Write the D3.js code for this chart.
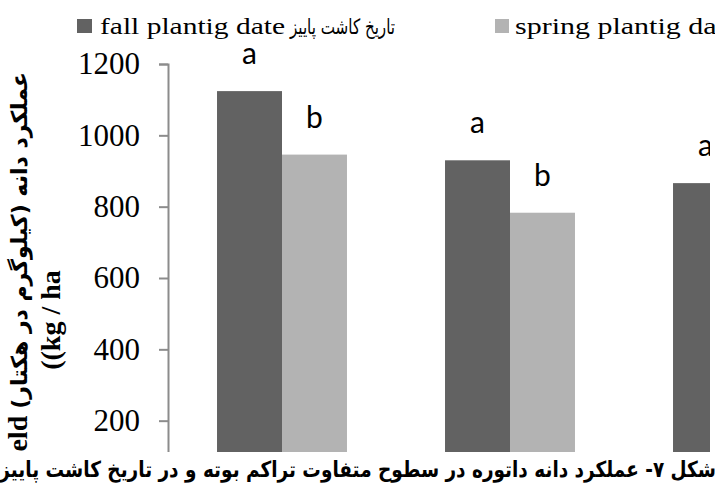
<!DOCTYPE html>
<html>
<head>
<meta charset="utf-8">
<script src="https://cdn.jsdelivr.net/npm/d3@7"></script>
<style>
  body { margin: 0; background: #fff; }
  svg { display: block; }
</style>
</head>
<body>
<div id="chart"></div>
<script>
// categories (axis labels are cut off in the source)
const categories = ["D1", "D2", "D3"];
const series = ["fall", "spring"];
// grain yield, kg / ha
const fallValues = [1124, 930, 866];
const springValues = [946, 783, null];
const fallLetters = ["a", "a", "a"];
const springLetters = ["b", "b", null];
const yTicks = [200, 400, 600, 800, 1000, 1200];

const W = 715, H = 484;
const svg = d3.select("#chart").append("svg")
    .attr("width", W)
    .attr("height", H);

// plot clip (source picture is cut at the right)
svg.append("defs").append("clipPath").attr("id", "plotClip")
    .append("rect").attr("x", 0).attr("y", 0).attr("width", 710).attr("height", H);

let y = d3.scaleLinear().domain([0, 1200]).range([492, 64]);

let x0 = d3.scaleBand().domain(categories)
    .range([168, 852])
    .paddingInner(0.43)
    .paddingOuter(0.215);

let x1 = d3.scaleBand().domain(series)
    .range([0, x0.bandwidth()]);

const colors = { fall: "#626262", spring: "#b3b3b3" };

let rows = categories.map((c, i) => ({
    cat: c,
    vals: [
        { key: "fall", v: fallValues[i], l: fallLetters[i] },
        { key: "spring", v: springValues[i], l: springLetters[i] }
    ].filter(d => d.v != null)
}));

let plot = svg.append("g").attr("clip-path", "url(#plotClip)");

let groups = plot.selectAll("g.grp")
    .data(rows)
    .enter().append("g")
    .attr("class", "grp")
    .attr("transform", d => "translate(" + x0(d.cat) + ",0)");

groups.selectAll("rect")
    .data(d => d.vals)
    .enter().append("rect")
    .attr("x", d => x1(d.key))
    .attr("y", d => y(d.v))
    .attr("width", x1.bandwidth())
    .attr("height", d => y(0) - y(d.v))
    .attr("fill", d => colors[d.key]);

groups.selectAll("text")
    .data(d => d.vals)
    .enter().append("text")
    .attr("x", d => x1(d.key) + x1.bandwidth() / 2)
    .attr("y", d => y(d.v) - 27)
    .attr("text-anchor", "middle")
    .style("font-family", "Lato, 'Open Sans', sans-serif")
    .style("font-size", "30px")
    .text(d => d.l);

// y axis
let yAxis = d3.axisLeft(y).tickValues(yTicks).tickSize(9).tickPadding(19)
    .tickFormat(d3.format("d"));
let ax = svg.append("g")
    .attr("transform", "translate(168,0)")
    .call(yAxis);
ax.select(".domain").attr("stroke", "#8c8c8c").attr("stroke-width", 2);
ax.selectAll(".tick line").attr("stroke", "#8c8c8c").attr("stroke-width", 2);
ax.selectAll(".tick text")
    .attr("fill", "#000")
    .style("font-family", "'Liberation Serif', 'Times New Roman', serif")
    .style("font-size", "31px");

// y axis title
let yTitle = svg.append("text")
    .attr("transform", "translate(27,72) rotate(-90)")
    .attr("text-anchor", "end")
    .attr("direction", "ltr")
    .style("font-weight", "bold");
yTitle.append("tspan")
    .style("font-family", "'Liberation Serif', serif")
    .style("font-size", "28px")
    .text("Grain yield ");
yTitle.append("tspan")
    .style("font-family", "'DejaVu Sans', sans-serif")
    .style("font-size", "22px")
    .text("عملکرد دانه (کیلوگرم در هکتار)");

svg.append("text")
    .attr("transform", "translate(60,320) rotate(-90)")
    .attr("text-anchor", "middle")
    .style("font-family", "'Liberation Serif', serif")
    .style("font-weight", "bold")
    .style("font-size", "28px")
    .text("((kg / ha");

// legend
let legend = svg.append("g");
legend.append("rect").attr("x", 77).attr("y", 19).attr("width", 15).attr("height", 14).attr("fill", colors.fall);
legend.append("text").attr("x", 100).attr("y", 34)
    .attr("textLength", 185).attr("lengthAdjust", "spacingAndGlyphs")
    .style("font-family", "'Liberation Serif', serif").style("font-size", "24px")
    .text("fall plantig date");
legend.append("text").attr("x", 290).attr("y", 34)
    .attr("textLength", 105).attr("lengthAdjust", "spacingAndGlyphs")
    .style("font-family", "'DejaVu Sans', sans-serif").style("font-size", "21px")
    .text("تاریخ کاشت پاییز");
legend.append("rect").attr("x", 495).attr("y", 19).attr("width", 14).attr("height", 14).attr("fill", colors.spring);
legend.append("text").attr("x", 515).attr("y", 34)
    .style("font-family", "'Liberation Serif', serif").style("font-size", "24px")
    .attr("transform", "translate(515,0) scale(1.25,1) translate(-515,0)")
    .text("spring plantig date");

// caption band at the bottom
svg.append("rect").attr("x", 0).attr("y", 452).attr("width", W).attr("height", H - 452).attr("fill", "#fff");
svg.append("text")
    .attr("x", 716).attr("y", 477)
    .attr("direction", "rtl")
    .attr("text-anchor", "start")
    .attr("transform", "translate(716,0) scale(0.84,1) translate(-716,0)")
    .style("font-family", "'DejaVu Sans', sans-serif")
    .style("font-weight", "bold")
    .style("font-size", "22px")
    .text("شکل ۷- عملکرد دانه داتوره در سطوح متفاوت تراکم بوته و در تاریخ کاشت پاییزه و بهاره");
</script>
</body>
</html>
